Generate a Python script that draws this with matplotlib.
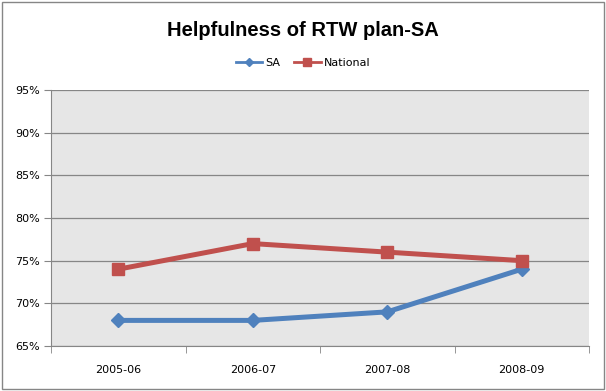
import matplotlib
matplotlib.use("Agg")
import matplotlib.pyplot as plt
from matplotlib.lines import Line2D
from matplotlib.patches import Rectangle
from matplotlib.ticker import FuncFormatter

categories = ["2005-06", "2006-07", "2007-08", "2008-09"]
sa_values = [68, 68, 69, 74]
national_values = [74, 77, 76, 75]
y_ticks = [65, 70, 75, 80, 85, 90, 95]

sa_color = "#4f81bd"
nat_color = "#c0504d"

fig = plt.figure(figsize=(6.06, 3.91), dpi=100)
ax = fig.add_axes([0.0842, 0.1151, 0.8878, 0.6547])

ax.set_facecolor("#e6e6e6")
x = range(len(categories))
ax.plot(x, sa_values, color=sa_color, lw=3.6, marker="D", ms=7,
        solid_joinstyle="round", zorder=3)
ax.plot(x, national_values, color=nat_color, lw=3.6, marker="s", ms=9,
        solid_joinstyle="round", zorder=3)

ax.set_xlim(-0.5, len(categories) - 0.5)
ax.set_ylim(65, 95)
ax.set_yticks(y_ticks)
ax.yaxis.set_major_formatter(FuncFormatter(lambda v, p: f"{v:.0f}%"))
ax.set_xticks(x)
ax.set_xticklabels(categories)
ax.set_xticks([i - 0.5 for i in range(len(categories) + 1)], minor=True)
ax.tick_params(axis="x", which="major", length=0, pad=14, labelsize=8, colors="black")
ax.tick_params(axis="x", which="minor", length=5, color="#868686", direction="out")
ax.tick_params(axis="y", length=5, color="#868686", labelsize=8, pad=3)

ax.grid(axis="y", color="#868686", lw=0.9)
ax.set_axisbelow(True)
for side in ["top", "right"]:
    ax.spines[side].set_visible(False)
for side in ["left", "bottom"]:
    ax.spines[side].set_color("#868686")

fig.text(0.5, 0.923, "Helpfulness of RTW plan-SA", ha="center", va="center",
         fontsize=14.5, fontweight="bold", family="Liberation Sans")

handles = [
    Line2D([], [], color=sa_color, lw=2, marker="D", ms=4),
    Line2D([], [], color=nat_color, lw=2, marker="s", ms=6),
]
fig.legend(handles, ["SA", "National"], loc="center", bbox_to_anchor=(0.5, 0.84),
           ncol=2, frameon=False, fontsize=8, handlelength=2.4,
           columnspacing=1.2, handletextpad=0.3)

fig.patches.append(Rectangle((0.004, 0.006), 0.992, 0.988, transform=fig.transFigure,
                             fill=False, edgecolor="#868686", lw=1.0))

fig.savefig("out.png", dpi=100)
